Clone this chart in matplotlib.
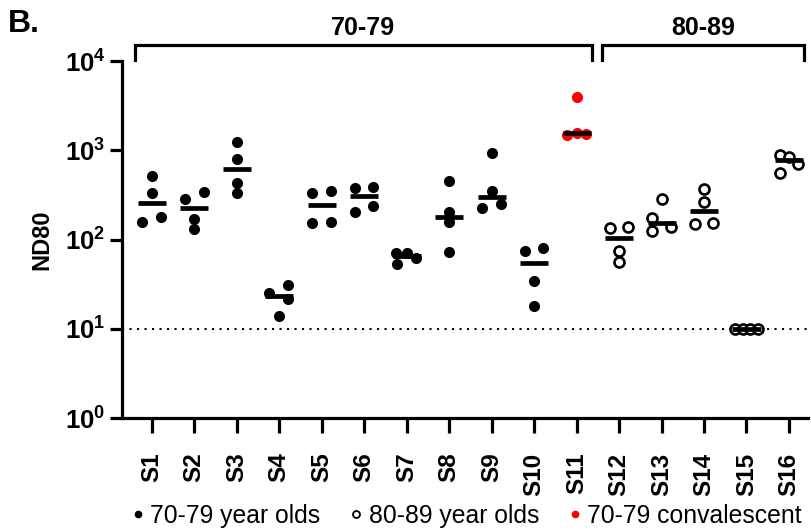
import matplotlib
matplotlib.use("Agg")
import matplotlib.pyplot as plt
import numpy as np
from matplotlib.lines import Line2D
from matplotlib.ticker import FixedLocator, FuncFormatter, NullLocator

plt.rcParams["font.family"] = ["Liberation Sans", "DejaVu Sans"]
plt.rcParams["mathtext.fontset"] = "custom"
plt.rcParams["mathtext.rm"] = "Liberation Sans:bold"
plt.rcParams["mathtext.it"] = "Liberation Sans:bold"
plt.rcParams["mathtext.bf"] = "Liberation Sans:bold"

# subjects and ND80 titres
subjects = [f"S{i}" for i in range(1, 17)]
age_70s = [
    [514, 330, 180, 158],   # S1
    [338, 282, 170, 130],   # S2
    [1247, 792, 433, 334],  # S3
    [30.9, 24.9, 21.4, 13.9],  # S4
    [330, 352, 154, 158],   # S5
    [378, 391, 203, 237],   # S6
    [70, 70, 61.6, 53.2],   # S7
    [452, 205, 156, 73],    # S8
    [931, 352, 225, 248],   # S9
    [74.3, 80.9, 34.3, 18.1],  # S10
]
convalescent_70s = [
    [3920, 1482, 1573, 1521],  # S11
]
age_80s = [
    [133, 139, 74.9, 56.4],  # S12
    [284, 173, 124, 137],    # S13
    [368, 261, 148, 152],    # S14
    [10, 10, 10, 10],        # S15
    [877, 847, 697, 552],    # S16
]
detection_limit = 10
groups = [("70-79", 0, 10), ("80-89", 11, 15)]

# horizontal scatter of points within each column (layout only)
spread = [
    [0, 0, 0.22, -0.22], [0.22, -0.22, 0, 0], [0, 0, 0, 0], [0.2, -0.25, 0.2, 0],
    [-0.22, 0.22, -0.22, 0.22], [-0.22, 0.22, -0.22, 0.22], [-0.24, 0, 0.22, -0.22],
    [0, 0, 0, 0], [0, 0, -0.22, 0.22], [-0.22, 0.22, 0, 0], [0, -0.22, 0, 0.22],
    [-0.22, 0.22, 0, 0], [0, -0.22, -0.22, 0.22], [0, 0, -0.22, 0.22],
    [-0.26, -0.09, 0.09, 0.26], [-0.22, 0, 0.22, -0.22],
]

fig = plt.figure(figsize=(8.12, 5.31), dpi=100)
ax = fig.add_axes([0.1502, 0.2128, 0.845, 0.6723])

all_sets = age_70s + convalescent_70s + age_80s
for i, vals in enumerate(all_sets):
    xs = i + np.array(spread[i])
    if i < len(age_70s):
        ax.scatter(xs, vals, s=64, color="black", linewidths=0, zorder=3)
    elif i < len(age_70s) + len(convalescent_70s):
        ax.scatter(xs, vals, s=64, color="#ff0000", linewidths=0, zorder=3)
    else:
        ax.scatter(xs, vals, s=52, facecolor="white", edgecolor="black",
                   linewidths=1.9, zorder=3)
    ax.hlines(np.median(vals), i - 0.33, i + 0.33, color="black", lw=3.4, zorder=4)

ax.axhline(detection_limit, color="black", lw=1.5, ls=(0, (1, 2.6)), zorder=1)

ax.set_yscale("log")
ax.set_ylim(1, 1e4)
ax.set_xlim(-0.7, 15.45)
ax.yaxis.set_major_locator(FixedLocator([1, 10, 100, 1000, 10000]))
ax.yaxis.set_minor_locator(NullLocator())
ax.yaxis.set_major_formatter(FuncFormatter(lambda v, p: r"$\mathrm{10^{%d}}$" % round(np.log10(v))))
ax.set_xticks(range(len(subjects)))
ax.set_xticklabels(subjects, rotation=90, fontweight="bold", fontsize=17.5, va="top")
ax.tick_params(axis="y", labelsize=18.5, length=9, width=2.3, pad=3)
ax.tick_params(axis="x", length=11, width=2.3, pad=14)
ax.set_ylabel("ND80", fontsize=17, fontweight="bold")
ax.yaxis.set_label_coords(-0.1, 0.5)

for side in ["top", "right"]:
    ax.spines[side].set_visible(False)
for side in ["left", "bottom"]:
    ax.spines[side].set_linewidth(2.3)

# group brackets above the plot
trans = ax.get_xaxis_transform()
for label, first, last in groups:
    x0, x1 = first - 0.4, last + 0.36
    ax.plot([x0, x0, x1, x1], [1.003, 1.045, 1.045, 1.003], color="black",
            lw=2.3, transform=trans, clip_on=False, solid_joinstyle="miter")
    ax.text((x0 + x1) / 2, 1.092, label, transform=trans, ha="center", va="center",
            fontsize=18, fontweight="bold")

fig.text(0.01, 0.955, "B.", fontsize=23, fontweight="bold", va="center", ha="left")

handles = [
    Line2D([], [], ls="none", marker="o", ms=4.5, color="black"),
    Line2D([], [], ls="none", marker="o", ms=5, mfc="white", mec="black", mew=1.3),
    Line2D([], [], ls="none", marker="o", ms=4.5, color="#ff0000"),
]
fig.legend(handles, ["70-79 year olds", "80-89 year olds", "70-79 convalescent"],
           ncol=3, loc="center", bbox_to_anchor=(0.575, 0.028), frameon=False,
           fontsize=17.8, handlelength=0.5, handletextpad=0.25, columnspacing=1.2,
           borderpad=0)

fig.savefig("out.png", dpi=100)
